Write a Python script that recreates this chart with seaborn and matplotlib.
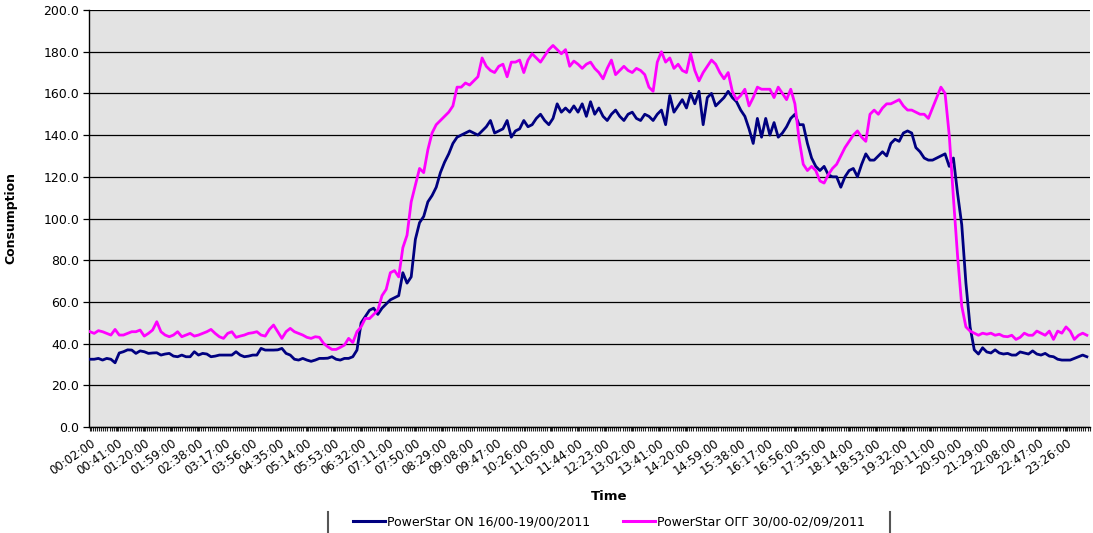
import numpy as np
import pandas as pd
import seaborn as sns
import matplotlib
matplotlib.use("Agg")
import matplotlib.pyplot as plt
from matplotlib.lines import Line2D
from matplotlib.ticker import FixedLocator, MultipleLocator, FormatStrFormatter

# ---- data (readings every 6 minutes starting 00:02) ----
start_minute = 2
step_minutes = 6

power_on = [
    32.5, 32.5, 32.9, 32.1, 32.9, 32.5, 30.8, 35.5, 36.1, 37.0,
    36.9, 35.3, 36.5, 36.1, 35.3, 35.5, 35.6, 34.5, 35.0, 35.3,
    34.0, 33.7, 34.5, 33.7, 33.7, 36.1, 34.5, 35.3, 35.0, 33.7,
    34.0, 34.5, 34.5, 34.5, 34.5, 36.1, 34.5, 33.7, 34.0, 34.5,
    34.5, 37.7, 36.9, 36.9, 36.9, 37.0, 37.7, 35.3, 34.5, 32.5,
    32.1, 32.9, 32.1, 31.5, 32.1, 32.9, 32.9, 33.0, 33.7, 32.5,
    32.1, 32.9, 32.9, 33.7, 36.9, 50.0, 53.0, 56.0, 57.0, 54.0,
    57.0, 59.0, 61.0, 62.0, 63.0, 74.0, 69.0, 72.0, 90.0, 98.0,
    101.0, 108.0, 111.0, 115.0, 122.0, 127.0, 131.0, 136.0, 139.0, 140.0,
    141.0, 142.0, 141.0, 140.0, 142.0, 144.0, 147.0, 141.0, 142.0, 143.0,
    147.0, 139.0, 142.0, 143.0, 147.0, 144.0, 145.0, 148.0, 150.0, 147.0,
    145.0, 148.0, 155.0, 151.0, 153.0, 151.0, 154.0, 151.0, 155.0, 149.0,
    156.0, 150.0, 153.0, 149.0, 147.0, 150.0, 152.0, 149.0, 147.0, 150.0,
    151.0, 148.0, 147.0, 150.0, 149.0, 147.0, 150.0, 152.0, 145.0, 159.0,
    151.0, 154.0, 157.0, 153.0, 160.0, 155.0, 161.0, 145.0, 158.0, 160.0,
    154.0, 156.0, 158.0, 161.0, 158.0, 156.0, 152.0, 149.0, 143.0, 136.0,
    148.0, 139.0, 148.0, 140.0, 146.0, 139.0, 141.0, 144.0, 148.0, 150.0,
    145.0, 145.0, 136.0, 129.0, 125.0, 123.0, 125.0, 121.0, 120.0, 120.0,
    115.0, 120.0, 123.0, 124.0, 120.0, 126.0, 131.0, 128.0, 128.0, 130.0,
    132.0, 130.0, 136.0, 138.0, 137.0, 141.0, 142.0, 141.0, 134.0, 132.0,
    129.0, 128.0, 128.0, 129.0, 130.0, 131.0, 125.0, 129.0, 112.0, 97.0,
    69.0, 48.0, 37.0, 35.0, 38.0, 36.0, 35.5, 37.0, 35.5, 35.0,
    35.3, 34.5, 34.5, 36.0, 35.5, 35.0, 36.5, 35.0, 34.5, 35.3,
    34.0, 33.7, 32.5, 32.1, 32.1, 32.1, 32.9, 33.7, 34.5, 33.7,
]

power_off = [
    45.7, 44.9, 46.2, 45.7, 44.9, 44.1, 46.8, 44.1, 44.1, 44.9,
    45.7, 45.7, 46.5, 43.6, 44.9, 46.5, 50.5, 45.7, 44.1, 43.3,
    44.1, 45.7, 43.3, 44.1, 44.9, 43.6, 44.1, 44.9, 45.7, 46.8,
    44.9, 43.3, 42.5, 44.9, 45.7, 43.0, 43.6, 44.1, 44.9, 45.2,
    45.7, 44.1, 43.6, 46.8, 48.9, 45.7, 42.5, 45.7, 47.3, 45.7,
    44.9, 44.1, 43.0, 42.5, 43.3, 43.0, 40.1, 38.5, 37.2, 37.2,
    38.2, 39.3, 42.5, 40.5, 45.7, 48.1, 52.1, 52.0, 54.0, 56.0,
    63.0, 66.0, 74.0, 75.0, 72.0, 86.0, 92.0, 108.0, 116.0, 124.0,
    122.0, 133.0, 141.0, 145.0, 147.0, 149.0, 151.0, 154.0, 163.0, 163.0,
    165.0, 164.0, 166.0, 168.0, 177.0, 173.0, 171.0, 170.0, 173.0, 174.0,
    168.0, 175.0, 175.0, 176.0, 170.0, 176.0, 179.0, 177.0, 175.0, 178.0,
    181.0, 183.0, 181.0, 179.0, 181.0, 173.0, 175.5, 174.0, 172.0, 174.0,
    175.0, 172.0, 170.0, 167.0, 172.0, 176.0, 169.0, 171.0, 173.0, 171.0,
    170.0, 172.0, 171.0, 169.0, 163.0, 161.0, 175.0, 180.0, 175.0, 177.0,
    172.0, 174.0, 171.0, 170.0, 179.0, 171.0, 166.0, 170.0, 173.0, 176.0,
    174.0, 170.0, 167.0, 170.0, 161.0, 157.0, 159.0, 162.0, 154.0, 158.0,
    163.0, 162.0, 162.0, 162.0, 158.0, 163.0, 160.0, 157.0, 162.0, 155.0,
    138.0, 126.0, 123.0, 125.0, 123.0, 118.0, 117.0, 121.0, 124.0, 126.0,
    130.0, 134.0, 137.0, 140.0, 142.0, 139.0, 137.0, 150.0, 152.0, 150.0,
    153.0, 155.0, 155.0, 156.0, 157.0, 154.0, 152.0, 152.0, 151.0, 150.0,
    150.0, 148.0, 153.0, 158.0, 163.0, 160.0, 140.0, 110.0, 82.0, 58.0,
    48.0, 46.0, 45.0, 44.0, 45.0, 44.5, 45.0, 44.0, 44.5, 43.5,
    43.3, 44.0, 42.0, 43.0, 45.0, 44.0, 44.0, 46.0, 45.0, 44.0,
    46.0, 42.0, 46.0, 45.0, 48.0, 46.0, 42.0, 44.0, 45.0, 44.0,
]

series_names = ["PowerStar ON 16/00-19/00/2011", "PowerStar O\u0393\u0393 30/00-02/09/2011"]
series_colors = ["#000080", "#ff00ff"]

tick_start_minute = 2
tick_step_minutes = 39
n_tick_labels = 37
y_ticks = [0, 20, 40, 60, 80, 100, 120, 140, 160, 180, 200]

# ---- build long table ----
minutes = [start_minute + step_minutes * i for i in range(len(power_on))]
df = pd.DataFrame({
    "minute": minutes * 2,
    "Consumption": power_on + power_off,
    "series": [series_names[0]] * len(power_on) + [series_names[1]] * len(power_off),
})

tick_minutes = [tick_start_minute + tick_step_minutes * k for k in range(n_tick_labels)]
tick_labels = ["%02d:%02d:00" % (m // 60, m % 60) for m in tick_minutes]

# ---- figure ----
fig = plt.figure(figsize=(10.93, 5.33), dpi=100)
ax = fig.add_axes([89 / 1093, 1 - 427 / 533, (1090 - 89) / 1093, (427 - 10) / 533])

sns.lineplot(data=df, x="minute", y="Consumption", hue="series",
             palette=dict(zip(series_names, series_colors)),
             linewidth=2.0, ax=ax, legend=False, zorder=3)

ax.set_facecolor("#e3e3e3")
ax.set_xlim(0.5, 1440.5)
ax.set_ylim(0, 200)

ax.yaxis.set_major_locator(FixedLocator(y_ticks))
ax.yaxis.set_major_formatter(FormatStrFormatter("%.1f"))
ax.grid(axis="y", color="black", linewidth=0.9, zorder=1)
ax.grid(axis="x", visible=False)
ax.set_axisbelow(True)

ax.set_xticks(tick_minutes)
ax.set_xticklabels(tick_labels, rotation=35, ha="right", va="top",
                   rotation_mode="anchor", fontsize=8.5)
ax.xaxis.set_minor_locator(MultipleLocator(3))
ax.tick_params(axis="x", which="both", direction="out", length=3, width=0.8, color="#222222", pad=4)
ax.tick_params(axis="y", which="major", direction="out", length=4, width=0.9, labelsize=9, pad=3)

for side in ["top", "right"]:
    ax.spines[side].set_visible(False)
for side in ["left", "bottom"]:
    ax.spines[side].set_color("black")
    ax.spines[side].set_linewidth(1.0)

ax.set_ylabel("Consumption", fontsize=9, fontweight="bold")
ax.yaxis.set_label_coords(-0.072, 0.5)
ax.set_xlabel("Time", fontsize=9.5, fontweight="bold")
ax.xaxis.set_label_coords(0.52, -0.15)

handles = [Line2D([0], [0], color=c, linewidth=2.2) for c in series_colors]
fig.legend(handles, series_names, loc="center", bbox_to_anchor=(609 / 1093, 1 - 522 / 533),
           ncol=2, frameon=False, fontsize=9, handlelength=2.6, handletextpad=0.15,
           columnspacing=2.6)
for xpix in (328, 890):
    fig.add_artist(Line2D([xpix / 1093, xpix / 1093], [0, 1 - 512 / 533],
                          transform=fig.transFigure, color="#555555", linewidth=1.5))

fig.savefig("out.png", dpi=100)
